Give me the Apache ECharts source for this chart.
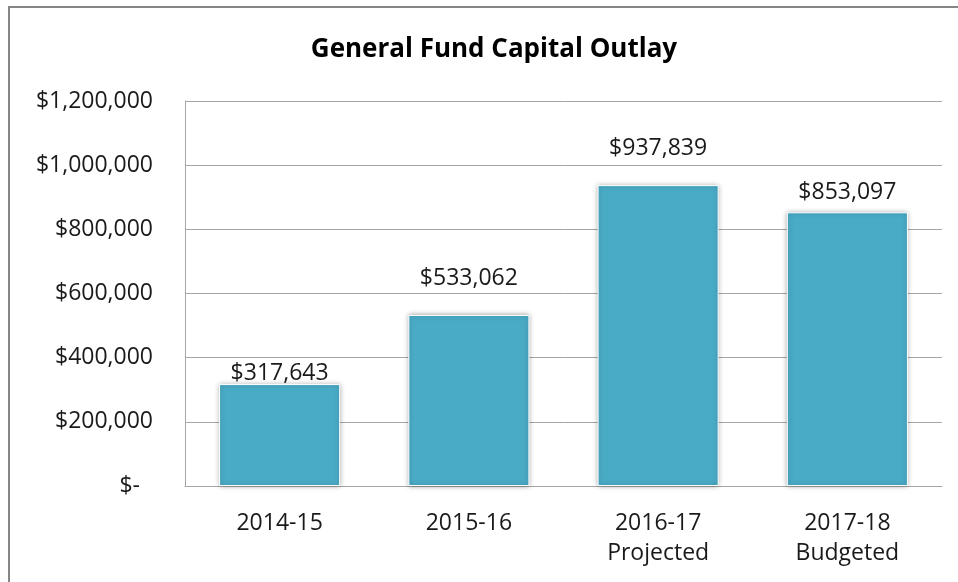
<!DOCTYPE html>
<html>
<head>
<meta charset="utf-8">
<script src="https://cdn.jsdelivr.net/npm/echarts@6/dist/echarts.min.js"></script>
<style>
  html, body { margin: 0; padding: 0; background: #fff; }
  #chart { width: 958px; height: 582px; }
</style>
</head>
<body>
<div id="chart"></div>
<script>
  // chart data
  var categories = ['2014-15', '2015-16', '2016-17\nProjected', '2017-18\nBudgeted'];
  var outlay = [317643, 533062, 937839, 853097];
  var yTicks = [0, 200000, 400000, 600000, 800000, 1000000, 1200000];

  var labelFont = 'Open Sans';
  var barColor = '#4aabc6';
  var labelLift = [-1, 25, 25, 8];   // excel labels were dragged by hand

  function money(v) {
    if (v === 0) return '{z|$-}';
    return '$' + v.toLocaleString('en-US');
  }

  var myChart = echarts.init(document.getElementById('chart'));
  var option = {
    backgroundColor: '#fff',
    animation: false,
    title: {
      text: 'General Fund Capital Outlay',
      left: 489,
      textAlign: 'center',
      top: 32,
      textStyle: { fontFamily: labelFont, fontWeight: 'bold', fontSize: 26, color: '#000' }
    },
    graphic: [{
      type: 'rect',
      shape: { x: 9, y: 7, width: 1200, height: 1200 },
      style: { fill: 'none', stroke: '#868686', lineWidth: 2 },
      silent: true
    }],
    grid: { left: 185, right: 16, top: 101, bottom: 96 },
    xAxis: {
      type: 'category',
      data: categories,
      axisTick: { show: false },
      axisLine: { lineStyle: { color: '#a6a6a6', width: 1 } },
      axisLabel: {
        fontFamily: labelFont, fontSize: 23, color: '#1a1a1a',
        margin: 22, lineHeight: 30
      }
    },
    yAxis: {
      type: 'value',
      min: yTicks[0],
      max: yTicks[yTicks.length - 1],
      interval: yTicks[1] - yTicks[0],
      axisLine: { show: true, lineStyle: { color: '#a6a6a6', width: 1 } },
      axisTick: { show: false },
      splitLine: { lineStyle: { color: '#a6a6a6', width: 1 } },
      axisLabel: {
        fontFamily: labelFont, fontSize: 23, color: '#1a1a1a', margin: 32,
        formatter: money,
        rich: { z: { fontFamily: labelFont, fontSize: 23, color: '#1a1a1a', padding: [0, 13, 0, 0] } }
      }
    },
    series: [{
      type: 'bar',
      barWidth: '64%',
      data: outlay.map(function (v, i) {
        return { value: v, label: { distance: labelLift[i] } };
      }),
      itemStyle: {
        color: barColor,
        borderColor: '#ffffff',
        borderWidth: 1,
        shadowBlur: 5,
        shadowColor: 'rgba(0,0,0,0.35)'
      },
      label: {
        show: true,
        position: 'top',
        fontFamily: labelFont,
        fontSize: 23,
        color: '#1a1a1a',
        formatter: function (p) { return money(p.value); }
      }
    }]
  };
  myChart.setOption(option);
</script>
</body>
</html>
